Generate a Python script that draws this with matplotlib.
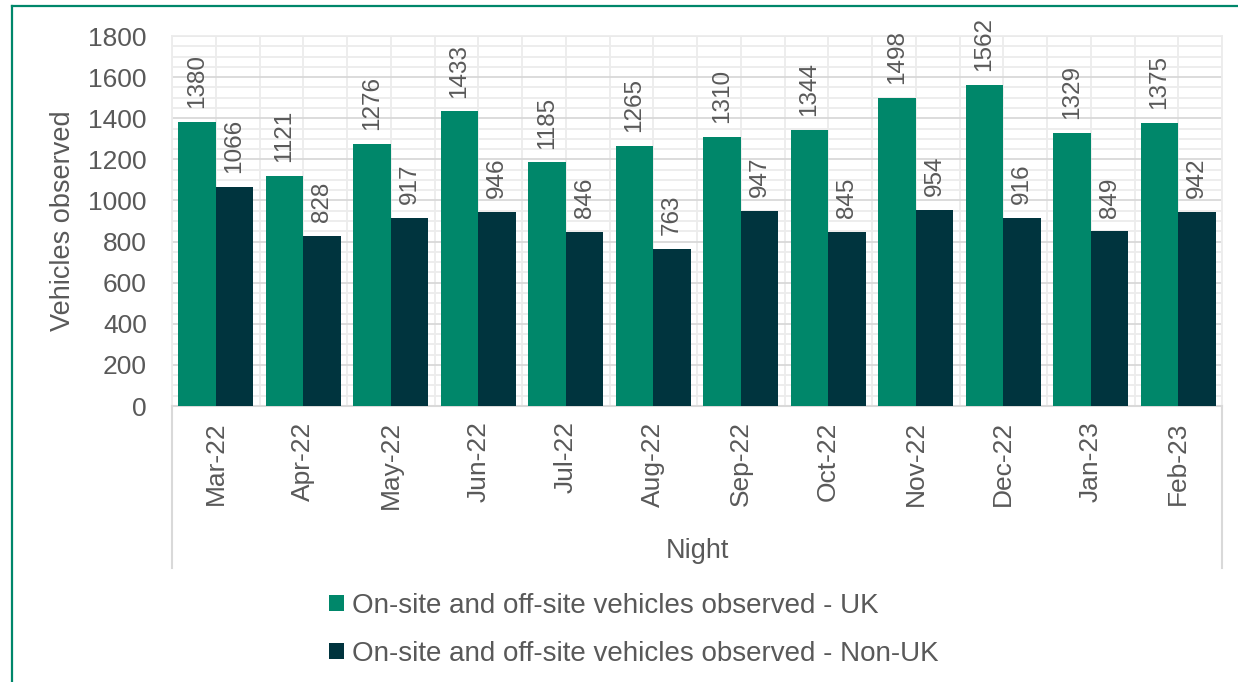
import matplotlib
matplotlib.use("Agg")
import matplotlib.pyplot as plt
from matplotlib.ticker import MultipleLocator, FixedLocator
from matplotlib.lines import Line2D
import numpy as np

months = ["Mar-22", "Apr-22", "May-22", "Jun-22", "Jul-22", "Aug-22",
          "Sep-22", "Oct-22", "Nov-22", "Dec-22", "Jan-23", "Feb-23"]
uk = [1380, 1121, 1276, 1433, 1185, 1265, 1310, 1344, 1498, 1562, 1329, 1375]
non_uk = [1066, 828, 917, 946, 846, 763, 947, 845, 954, 916, 849, 942]
series_names = ["On-site and off-site vehicles observed - UK",
                "On-site and off-site vehicles observed - Non-UK"]

GREEN = "#00876A"
DARK = "#00343E"
TXT = "#595959"
GRID_MINOR = "#ECECEC"
GRID_MAJOR = "#D9D9D9"

plt.rcParams["font.family"] = ["Liberation Sans", "DejaVu Sans"]

W, H = 1238, 682
fig = plt.figure(figsize=(W / 100, H / 100), dpi=100)
ax = fig.add_axes([172 / W, 1 - 406 / H, (1222 - 172) / W, (406 - 36) / H])

x = np.arange(len(months))
bw = 0.43
b1 = ax.bar(x - bw / 2, uk, bw, color=GREEN, label=series_names[0], zorder=3)
b2 = ax.bar(x + bw / 2, non_uk, bw, color=DARK, label=series_names[1], zorder=3)

ax.bar_label(b1, rotation=90, padding=10, fontsize=17.5, color=TXT)
ax.bar_label(b2, rotation=90, padding=10, fontsize=17.5, color=TXT)

ax.set_xlim(-0.5, len(months) - 0.5)
ax.set_ylim(0, 1800)
ax.yaxis.set_major_locator(MultipleLocator(200))
ax.yaxis.set_minor_locator(MultipleLocator(50))
ax.set_xticks(x)
ax.set_xticklabels(months, rotation=90)
ax.xaxis.set_minor_locator(FixedLocator(np.arange(-0.5, len(months), 1.0)))

ax.grid(which="minor", axis="both", color=GRID_MINOR, linewidth=1.3, zorder=0)
ax.grid(which="major", axis="y", color=GRID_MAJOR, linewidth=1.3, zorder=1)
ax.grid(which="major", axis="x", color=GRID_MINOR, linewidth=1.3, zorder=0)

ax.tick_params(axis="both", which="both", length=0)
ax.tick_params(axis="y", labelsize=19, labelcolor=TXT, pad=18)
ax.tick_params(axis="x", labelsize=19, labelcolor=TXT, pad=11)

for s in ["top", "right", "left"]:
    ax.spines[s].set_color(GRID_MINOR)
    ax.spines[s].set_linewidth(1.3)
ax.spines["bottom"].set_color(GRID_MAJOR)
ax.spines["bottom"].set_linewidth(1.5)

# multi-level axis box sides below the plot
for xa in (0, 1):
    ax.add_line(Line2D([xa, xa], [0, -0.438], transform=ax.transAxes,
                       color=GRID_MAJOR, linewidth=1.5, clip_on=False))

ax.set_ylabel("Vehicles observed", fontsize=19.5, color=TXT, va="center", ha="center")
ax.yaxis.set_label_coords(-0.104, 0.5)
ax.set_xlabel("Night", fontsize=19.5, color=TXT, va="center", ha="center")
ax.xaxis.set_label_coords(0.5, -0.392)

leg = fig.legend(handles=[b1, b2], labels=series_names, loc="upper left",
                 bbox_to_anchor=(329 / W, 1 - 593 / H), frameon=False,
                 fontsize=20, handlelength=0.54, handleheight=0.5,
                 handletextpad=0.3, labelspacing=0.8, borderpad=0,
                 borderaxespad=0)
for t in leg.get_texts():
    t.set_color(TXT)

# green frame (top and left visible)
fig.add_artist(Line2D([12 / W, 1.0], [1 - 6 / H, 1 - 6 / H], transform=fig.transFigure,
                      color=GREEN, linewidth=1.6))
fig.add_artist(Line2D([12 / W, 12 / W], [0, 1 - 6 / H], transform=fig.transFigure,
                      color=GREEN, linewidth=1.6))

fig.savefig("out.png", dpi=100)
